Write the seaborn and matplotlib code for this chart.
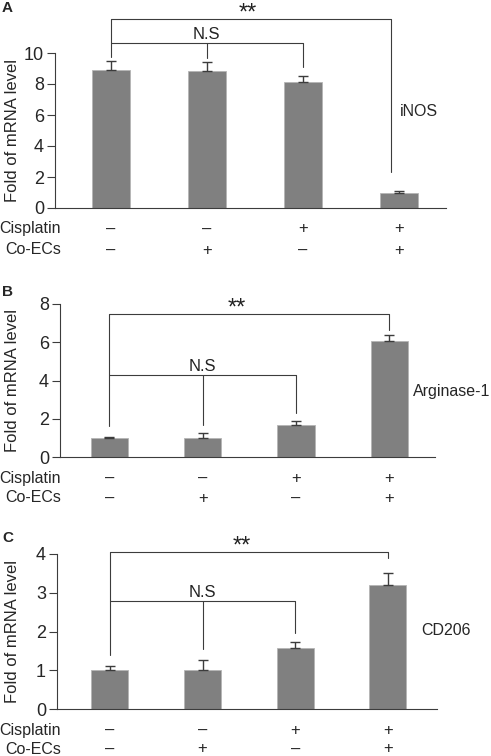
import numpy as np
import pandas as pd
import matplotlib
matplotlib.use('Agg')
import matplotlib.pyplot as plt
import seaborn as sns

# datos
grupos = ['G1', 'G2', 'G3', 'G4']
cisplatin = ['–', '–', '+', '+']
co_ecs = ['–', '+', '–', '+']

inos = [8.9, 8.85, 8.1, 1.0]
inos_err = [0.6, 0.55, 0.42, 0.08]
arg1 = [0.97, 1.0, 1.67, 6.07]
arg1_err = [0.1, 0.25, 0.21, 0.31]
cd206 = [1.0, 1.0, 1.57, 3.2]
cd206_err = [0.12, 0.27, 0.15, 0.3]

sns.set_style('ticks')
plt.rcParams['font.family'] = ['Liberation Sans', 'DejaVu Sans']

W, H = 491, 756
fig = plt.figure(figsize=(W / 100, H / 100), dpi=100)

linea = '#3c3c3c'

# cada panel: letra, gen, valores, errores, ylim, caja (px), xlim, corchetes
paneles = [
    dict(letra='A', gen='iNOS', vals=inos, errs=inos_err, ymax=10, step=2,
         caja=(55, 53, 446, 208), xlim=(-0.58, 3.49), gen_pos=(3.01, 6.2),
         star=(12.2, 9.75, 2.3, 2.92), ns=(10.65, 9.7, 9.1), star_x=1.43,
         label_x=-0.09, filas=(229, 250), letra_y=8),
    dict(letra='B', gen='Arginase-1', vals=arg1, errs=arg1_err, ymax=8, step=2,
         caja=(60, 304, 435, 457), xlim=(-0.53, 3.49), gen_pos=(3.25, 3.4),
         star=(7.46, 1.6, 6.65, 3.0), ns=(4.29, 1.65, 2.29), star_x=1.37,
         label_x=-0.107, filas=(478, 498), letra_y=292),
    dict(letra='C', gen='CD206', vals=cd206, errs=cd206_err, ymax=4, step=1,
         caja=(57, 554, 437, 709), xlim=(-0.57, 3.53), gen_pos=(3.36, 2.02),
         star=(4.06, 1.4, 3.9, 3.0), ns=(2.79, 1.55, 1.96), star_x=1.42,
         label_x=-0.097, filas=(730, 749), letra_y=538),
]

for p in paneles:
    x0, y0, x1, y1 = p['caja']
    ax = fig.add_axes([x0 / W, 1 - y1 / H, (x1 - x0) / W, (y1 - y0) / H])
    df = pd.DataFrame({'grupo': grupos, 'valor': p['vals']})
    sns.barplot(data=df, x='grupo', y='valor', order=grupos, color='#808080',
                saturation=1, width=0.4, edgecolor='#b5b5b5', linewidth=0.6,
                errorbar=None, ax=ax)
    xs = np.arange(len(grupos))
    ax.errorbar(xs, p['vals'], yerr=[np.zeros(len(grupos)), p['errs']],
                fmt='none', ecolor=linea, elinewidth=1, capsize=3.5, capthick=1)

    ax.set_xlim(p['xlim'])
    ax.set_ylim(0, p['ymax'])
    ax.set_yticks(np.arange(0, p['ymax'] + 0.1, p['step']))
    ax.set_xticks([])
    ax.set_xlabel('')
    ax.set_ylabel('Fold of mRNA level', fontsize=12)
    ax.yaxis.set_label_coords(p['label_x'], 0.5)
    ax.tick_params(axis='y', labelsize=13, length=6, width=0.8, color=linea, pad=2)
    for s in ['top', 'right']:
        ax.spines[s].set_visible(False)
    for s in ['left', 'bottom']:
        ax.spines[s].set_color(linea)
        ax.spines[s].set_linewidth(0.8)

    # corchetes de significancia
    ys, l_bot, r_bot, rx = p['star']
    kw = dict(color=linea, lw=0.8, clip_on=False)
    ax.plot([0, 0, rx, rx], [l_bot, ys, ys, r_bot], **kw)
    yn, m_bot, n_bot = p['ns']
    ax.plot([0, 2, 2], [yn, yn, n_bot], **kw)
    ax.plot([1, 1], [yn, m_bot], **kw)
    ax.annotate('**', (p['star_x'], ys), xytext=(0, -0.5), textcoords='offset points',
                ha='center', va='baseline', fontsize=17, color='#222222',
                annotation_clip=False)
    ax.annotate('N.S', (1, yn), xytext=(0, 3), textcoords='offset points',
                ha='center', va='baseline', fontsize=12, color='#222222',
                annotation_clip=False)
    ax.text(p['gen_pos'][0], p['gen_pos'][1], p['gen'], ha='left', va='center',
            fontsize=11.5, clip_on=False)

    # filas de tratamiento
    for fila, signos, nombre in zip(p['filas'], [cisplatin, co_ecs], ['Cisplatin', 'Co-ECs']):
        yf = 1 - fila / H
        for i, s in enumerate(signos):
            ax.annotate(s, (i, yf), xycoords=('data', 'figure fraction'),
                        ha='center', va='center', fontsize=12, annotation_clip=False)
        fig.text(61 / W, yf, nombre, ha='right', va='center', fontsize=11.5)

    fig.text(2 / W, 1 - p['letra_y'] / H, p['letra'], ha='left', va='center',
             fontsize=11, fontweight='bold')

fig.savefig('out.png', dpi=100)
